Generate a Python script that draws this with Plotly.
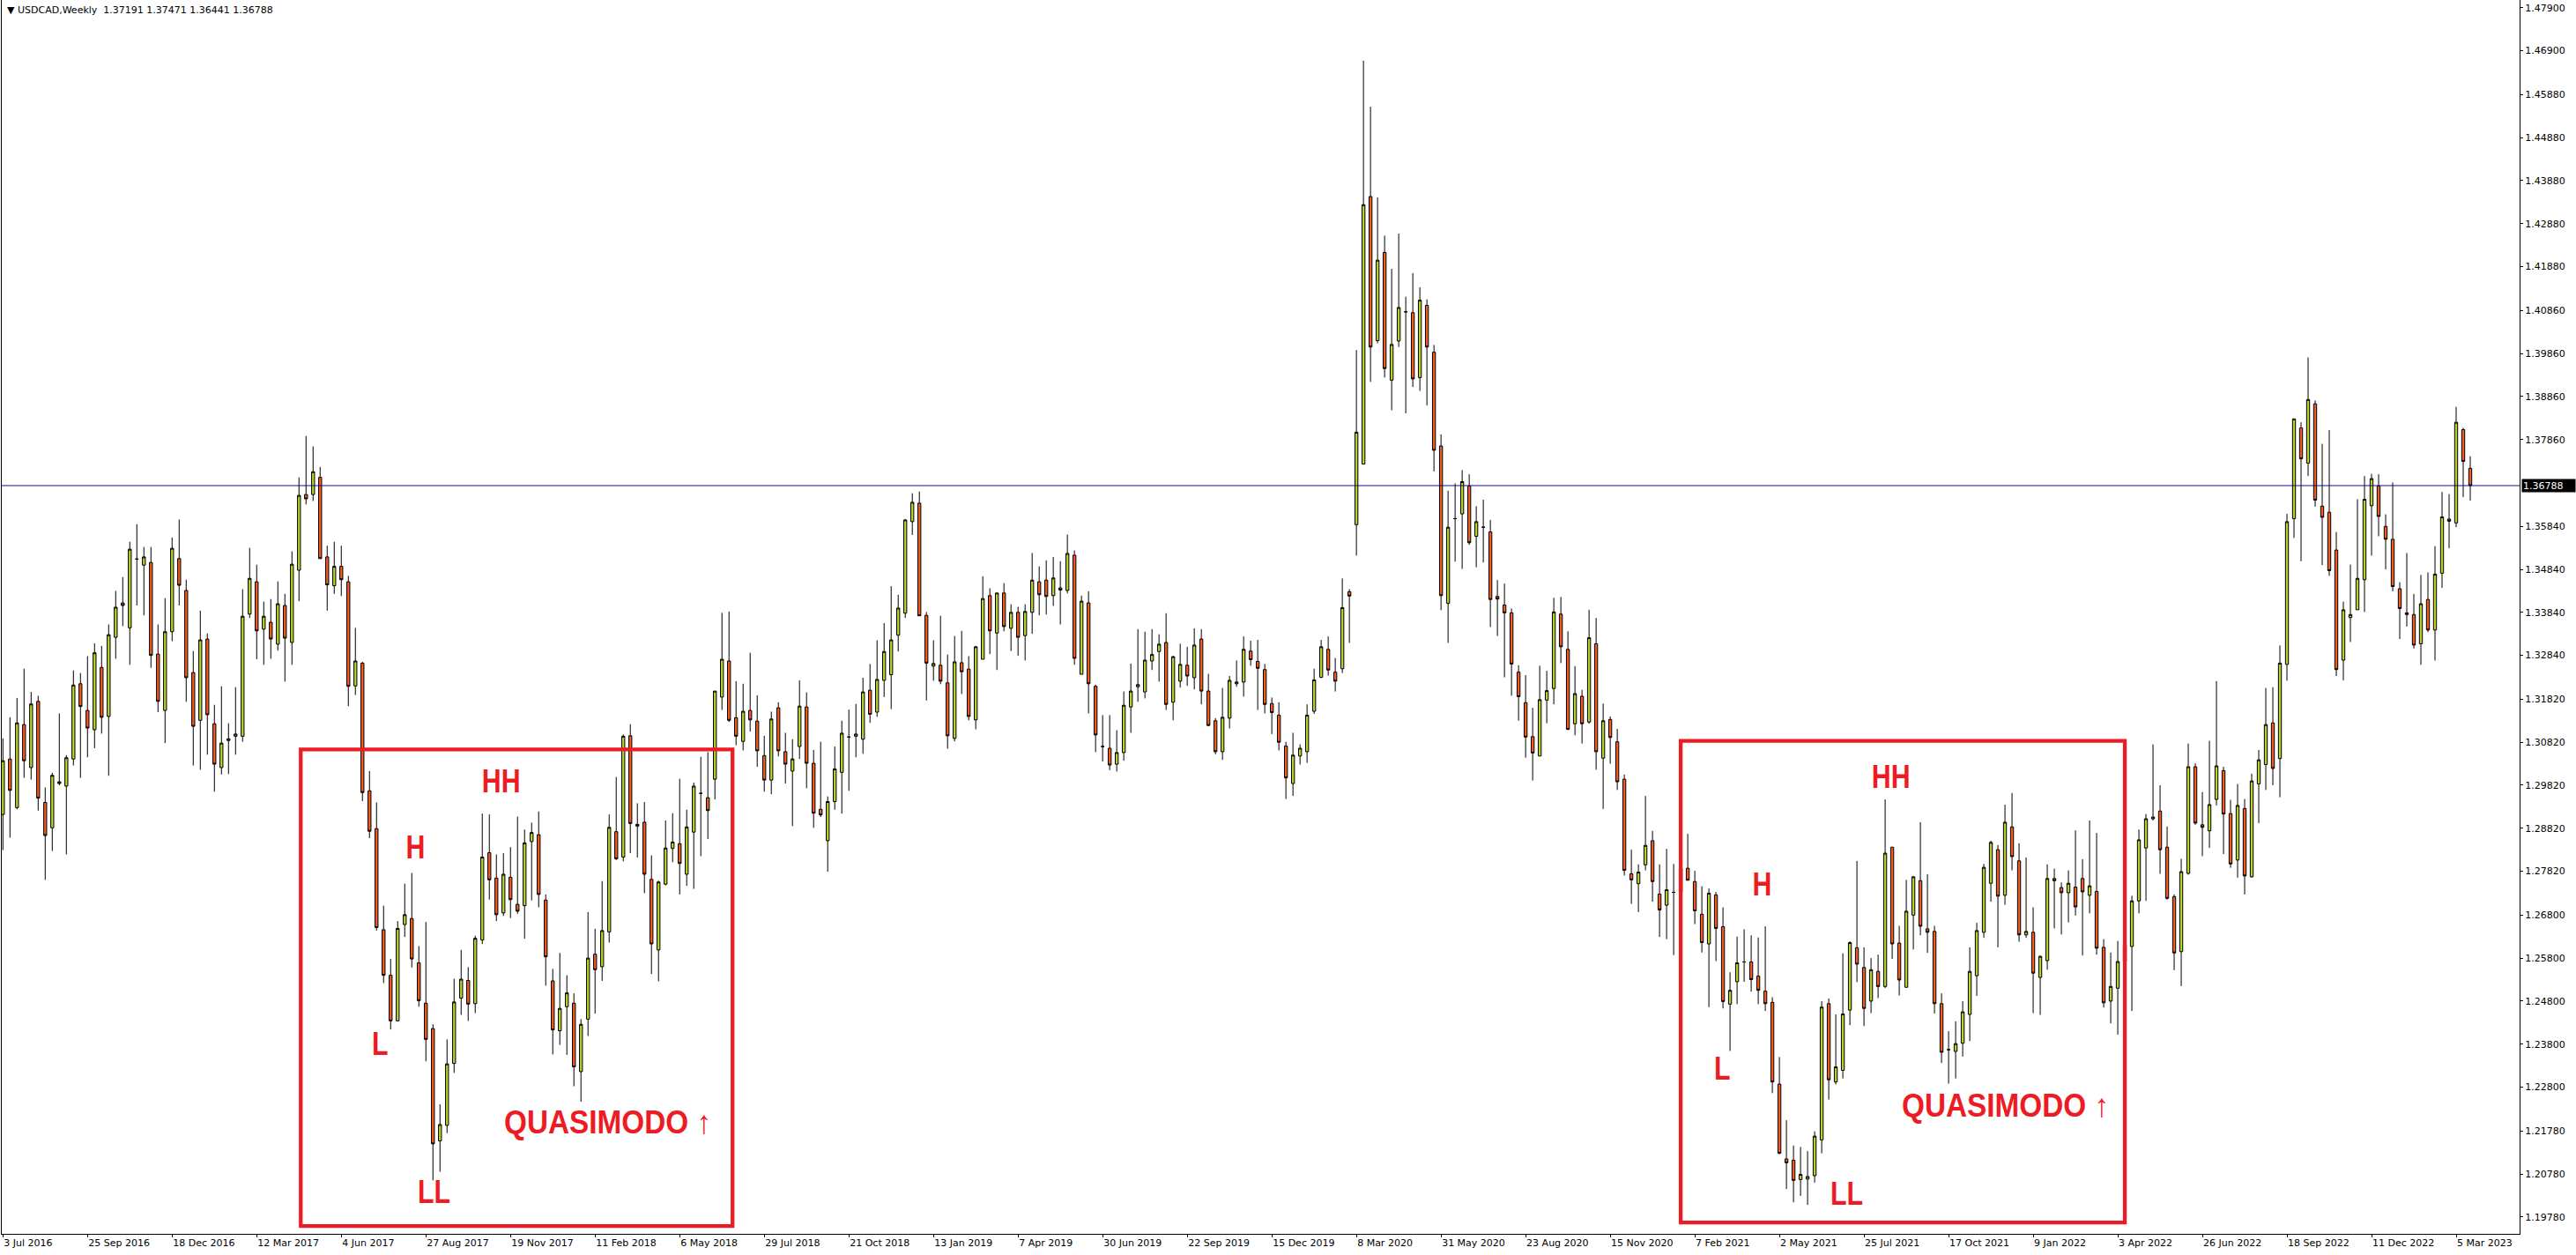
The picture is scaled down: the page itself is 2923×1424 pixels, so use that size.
import pandas as pd
import plotly.graph_objects as go

symbol_title = "USDCAD,Weekly"
first_week = "2016-07-03"

opens = [
    1.2914, 1.3043, 1.2930, 1.3123, 1.3023, 1.3177, 1.2942, 1.2883, 1.2990, 1.2980,
    1.3043, 1.3218, 1.3156, 1.3111, 1.3256, 1.3142, 1.3326, 1.3406, 1.3348, 1.3508,
    1.3494, 1.3500, 1.3287, 1.3156, 1.3339, 1.3509, 1.3435, 1.3244, 1.3133, 1.3322,
    1.3125, 1.3023, 1.3086, 1.3096, 1.3096, 1.3380, 1.3455, 1.3345, 1.3361, 1.3310,
    1.3400, 1.3314, 1.3482, 1.3658, 1.3658, 1.3698, 1.3513, 1.3446, 1.3491, 1.3455,
    1.3213, 1.3266, 1.2969, 1.2881, 1.2646, 1.2540, 1.2434, 1.2658, 1.2672, 1.2569,
    1.2475, 1.2416, 1.2155, 1.2191, 1.2335, 1.2487, 1.2528, 1.2474, 1.2622, 1.2825,
    1.2766, 1.2685, 1.2768, 1.2705, 1.2702, 1.2851, 1.2867, 1.2715, 1.2527, 1.2411,
    1.2467, 1.2475, 1.2316, 1.2438, 1.2589, 1.2560, 1.2641, 1.2874, 1.2815, 1.3097,
    1.2887, 1.2896, 1.2763, 1.2599, 1.2752, 1.2835, 1.2846, 1.2775, 1.2873, 1.2963,
    1.2953, 1.2996, 1.3187, 1.3271, 1.3139, 1.3084, 1.3156, 1.3131, 1.3051, 1.2994,
    1.3162, 1.3060, 1.3015, 1.3072, 1.3164, 1.3033, 1.2926, 1.2853, 1.2944, 1.3012,
    1.3094, 1.3096, 1.3089, 1.3203, 1.3152, 1.3226, 1.3239, 1.3331, 1.3382, 1.3595,
    1.3638, 1.3377, 1.3259, 1.3261, 1.3220, 1.3091, 1.3267, 1.3252, 1.3134, 1.3275,
    1.3423, 1.3336, 1.3429, 1.3347, 1.3384, 1.3330, 1.3384, 1.3455, 1.3459, 1.3423,
    1.3441, 1.3435, 1.3517, 1.3240, 1.3406, 1.3212, 1.3072, 1.3068, 1.3031, 1.3058,
    1.3164, 1.3211, 1.3199, 1.3271, 1.3293, 1.3314, 1.3175, 1.3224, 1.3261, 1.3232,
    1.3322, 1.3201, 1.3132, 1.3060, 1.3138, 1.3218, 1.3222, 1.3294, 1.3270, 1.3251,
    1.3172, 1.3145, 1.3073, 1.2986, 1.3050, 1.3060, 1.3154, 1.3233, 1.3298, 1.3245,
    1.3253, 1.3432, 1.3588, 1.3729, 1.4351, 1.4016, 1.4221, 1.3924, 1.4015, 1.4083,
    1.4081, 1.3930, 1.4098, 1.3989, 1.3771, 1.3405, 1.3602, 1.3613, 1.3678, 1.3561,
    1.3582, 1.3571, 1.3421, 1.3401, 1.3383, 1.3245, 1.3174, 1.3095, 1.3050, 1.3180,
    1.3207, 1.3380, 1.3298, 1.3125, 1.3189, 1.3129, 1.3311, 1.3045, 1.3135, 1.3083,
    1.2996, 1.2776, 1.2753, 1.2797, 1.2853, 1.2729, 1.2703, 1.2733, 1.2733, 1.2789,
    1.2758, 1.2682, 1.2613, 1.2727, 1.2653, 1.2473, 1.2525, 1.2571, 1.2571, 1.2538,
    1.2503, 1.2477, 1.2287, 1.2113, 1.2110, 1.2065, 1.2066, 1.2074, 1.2157, 1.2474,
    1.2292, 1.2319, 1.2459, 1.2604, 1.2558, 1.2480, 1.2549, 1.2514, 1.2838, 1.2615,
    1.2512, 1.2680, 1.2760, 1.2648, 1.2642, 1.2474, 1.2367, 1.2363, 1.2382, 1.2449,
    1.2539, 1.2640, 1.2754, 1.2832, 1.2726, 1.2885, 1.2806, 1.2634, 1.2640, 1.2535,
    1.2574, 1.2765, 1.2744, 1.2732, 1.2745, 1.2765, 1.2726, 1.2735, 1.2605, 1.2480,
    1.2510, 1.2572, 1.2607, 1.2713, 1.2836, 1.2904, 1.2922, 1.2838, 1.2723, 1.2595,
    1.2777, 1.3025, 1.2890, 1.2876, 1.2949, 1.3016, 1.2916, 1.2808, 1.2928, 1.2769,
    1.2985, 1.3030, 1.3127, 1.3044, 1.3263, 1.3602, 1.3813, 1.3731, 1.3869, 1.3631,
    1.3617, 1.3529, 1.3273, 1.3372, 1.3390, 1.3460, 1.3632, 1.3678, 1.3584, 1.3554,
    1.3439, 1.3383, 1.3379, 1.3311, 1.3414, 1.3343, 1.3475, 1.3601, 1.3592, 1.3809,
    1.37191,
]

highs = [
    1.3091, 1.3140, 1.3185, 1.3253, 1.3199, 1.3190, 1.2977, 1.3011, 1.3149, 1.3052,
    1.3249, 1.3243, 1.3282, 1.3312, 1.3306, 1.3356, 1.3434, 1.3466, 1.3548, 1.3589,
    1.3536, 1.3536, 1.3356, 1.3417, 1.3558, 1.3600, 1.3460, 1.3294, 1.3388, 1.3335,
    1.3169, 1.3212, 1.3126, 1.3210, 1.3438, 1.3534, 1.3495, 1.3409, 1.3415, 1.3456,
    1.3427, 1.3526, 1.3698, 1.3794, 1.3770, 1.3722, 1.3539, 1.3548, 1.3539, 1.3469,
    1.3348, 1.3269, 1.3015, 1.2942, 1.2702, 1.2578, 1.2666, 1.2753, 1.2778, 1.2608,
    1.2664, 1.2426, 1.2240, 1.2391, 1.2532, 1.2599, 1.2559, 1.2632, 1.2916, 1.2914,
    1.2821, 1.2824, 1.2838, 1.2909, 1.2879, 1.2895, 1.2921, 1.2728, 1.2555, 1.2592,
    1.2540, 1.2498, 1.2438, 1.2687, 1.2648, 1.2759, 1.2914, 1.3001, 1.3100, 1.3124,
    1.2940, 1.2943, 1.2819, 1.2760, 1.2900, 1.2917, 1.2997, 1.2925, 1.2988, 1.3048,
    1.3059, 1.3201, 1.3383, 1.3386, 1.3224, 1.3218, 1.3290, 1.3191, 1.3097, 1.3153,
    1.3175, 1.3104, 1.3089, 1.3226, 1.3198, 1.3064, 1.3083, 1.2956, 1.3072, 1.3132,
    1.3158, 1.3171, 1.3232, 1.3264, 1.3319, 1.3359, 1.3445, 1.3425, 1.3601, 1.3661,
    1.3665, 1.3385, 1.3319, 1.3376, 1.3286, 1.3329, 1.3341, 1.3282, 1.3306, 1.3468,
    1.3440, 1.3429, 1.3452, 1.3403, 1.3397, 1.3403, 1.3522, 1.3491, 1.3505, 1.3513,
    1.3503, 1.3565, 1.3528, 1.3423, 1.3433, 1.3216, 1.3145, 1.3145, 1.3110, 1.3200,
    1.3265, 1.3345, 1.3339, 1.3345, 1.3333, 1.3382, 1.3283, 1.3311, 1.3304, 1.3347,
    1.3345, 1.3241, 1.3138, 1.3208, 1.3236, 1.3272, 1.3328, 1.3318, 1.3320, 1.3264,
    1.3186, 1.3175, 1.3083, 1.3104, 1.3077, 1.3170, 1.3253, 1.3320, 1.3328, 1.3278,
    1.3463, 1.3438, 1.3994, 1.4667, 1.4560, 1.4349, 1.4260, 1.4183, 1.4265, 1.4118,
    1.4173, 1.4140, 1.4112, 1.4006, 1.3798, 1.3667, 1.3684, 1.3715, 1.3705, 1.3631,
    1.3646, 1.3599, 1.3459, 1.3451, 1.3393, 1.3261, 1.3238, 1.3162, 1.3260, 1.3248,
    1.3418, 1.3420, 1.3340, 1.3259, 1.3204, 1.3390, 1.3371, 1.3172, 1.3142, 1.3113,
    1.3007, 1.2832, 1.2798, 1.2957, 1.2876, 1.2798, 1.2834, 1.2799, 1.2830, 1.2869,
    1.2783, 1.2747, 1.2742, 1.2734, 1.2698, 1.2547, 1.2630, 1.2647, 1.2633, 1.2628,
    1.2654, 1.2489, 1.2350, 1.2203, 1.2144, 1.2141, 1.2131, 1.2177, 1.2480, 1.2486,
    1.2449, 1.2591, 1.2619, 1.2806, 1.2605, 1.2580, 1.2588, 1.2949, 1.2838, 1.2655,
    1.2762, 1.2771, 1.2896, 1.2775, 1.2655, 1.2498, 1.2410, 1.2433, 1.2480, 1.2605,
    1.2662, 1.2799, 1.2853, 1.2843, 1.2937, 1.2964, 1.2847, 1.2814, 1.2698, 1.2586,
    1.2798, 1.2788, 1.2756, 1.2784, 1.2877, 1.2810, 1.2900, 1.2871, 1.2624, 1.2593,
    1.2620, 1.2665, 1.2725, 1.2879, 1.2915, 1.3077, 1.2982, 1.2886, 1.2728, 1.2811,
    1.3079, 1.3033, 1.2966, 1.3085, 1.3224, 1.3025, 1.2948, 1.2985, 1.2950, 1.3009,
    1.3064, 1.3208, 1.3210, 1.3307, 1.3613, 1.3834, 1.3826, 1.3977, 1.3877, 1.3776,
    1.3808, 1.3571, 1.3409, 1.3495, 1.3647, 1.3701, 1.3706, 1.3705, 1.3612, 1.3686,
    1.3454, 1.3522, 1.3427, 1.3471, 1.3477, 1.3538, 1.3664, 1.3659, 1.3862, 1.3813,
    1.37471,
]

lows = [
    1.2831, 1.2860, 1.2926, 1.2999, 1.2995, 1.2923, 1.2762, 1.2829, 1.2982, 1.2821,
    1.3028, 1.2999, 1.3047, 1.3068, 1.3102, 1.3004, 1.3276, 1.3352, 1.3262, 1.3400,
    1.3377, 1.3255, 1.3152, 1.3080, 1.3317, 1.3400, 1.3176, 1.3028, 1.3018, 1.3053,
    1.2967, 1.3007, 1.3008, 1.3053, 1.3083, 1.3371, 1.3275, 1.3262, 1.3276, 1.3295,
    1.3223, 1.3262, 1.3410, 1.3635, 1.3643, 1.3509, 1.3388, 1.3427, 1.3422, 1.3166,
    1.3192, 1.2945, 1.2859, 1.2644, 1.2522, 1.2414, 1.2434, 1.2629, 1.2558, 1.2467,
    1.2340, 1.2063, 1.2083, 1.2173, 1.2313, 1.2448, 1.2434, 1.2452, 1.2613, 1.2716,
    1.2666, 1.2678, 1.2673, 1.2683, 1.2625, 1.2714, 1.2698, 1.2516, 1.2356, 1.2378,
    1.2355, 1.2282, 1.2246, 1.2399, 1.2451, 1.2527, 1.2616, 1.2808, 1.2805, 1.2824,
    1.2814, 1.2731, 1.2543, 1.2526, 1.2749, 1.2803, 1.2728, 1.2748, 1.2741, 1.2817,
    1.2857, 1.2949, 1.3157, 1.3129, 1.3075, 1.3063, 1.3107, 1.3025, 1.2967, 1.2961,
    1.3049, 1.2986, 1.2887, 1.3043, 1.2975, 1.2883, 1.2908, 1.2781, 1.2925, 1.2916,
    1.2969, 1.3047, 1.3055, 1.3127, 1.3141, 1.3187, 1.3159, 1.3293, 1.3371, 1.3564,
    1.3376, 1.3179, 1.3225, 1.3217, 1.3067, 1.3084, 1.3194, 1.3133, 1.3112, 1.3275,
    1.3287, 1.3250, 1.3340, 1.3294, 1.3283, 1.3272, 1.3334, 1.3377, 1.3379, 1.3399,
    1.3356, 1.3428, 1.3262, 1.3240, 1.3149, 1.3059, 1.3037, 1.3017, 1.3014, 1.3039,
    1.3104, 1.3176, 1.3184, 1.3250, 1.3223, 1.3157, 1.3133, 1.3209, 1.3213, 1.3205,
    1.3170, 1.3119, 1.3054, 1.3041, 1.3114, 1.3211, 1.3188, 1.3260, 1.3157, 1.3149,
    1.3101, 1.3063, 1.2950, 1.2957, 1.3030, 1.3034, 1.3148, 1.3231, 1.3237, 1.3200,
    1.3243, 1.3313, 1.3516, 1.3729, 1.3920, 1.4010, 1.3930, 1.3854, 1.4001, 1.3847,
    1.3908, 1.3899, 1.3865, 1.3712, 1.3389, 1.3313, 1.3502, 1.3485, 1.3541, 1.3489,
    1.3500, 1.3350, 1.3329, 1.3233, 1.3190, 1.3132, 1.3046, 1.2993, 1.3050, 1.3126,
    1.3170, 1.3266, 1.3110, 1.3098, 1.3079, 1.3125, 1.3018, 1.2927, 1.3032, 1.2971,
    1.2772, 1.2706, 1.2687, 1.2784, 1.2711, 1.2629, 1.2624, 1.2587, 1.2660, 1.2761,
    1.2659, 1.2593, 1.2466, 1.2573, 1.2463, 1.2364, 1.2473, 1.2525, 1.2502, 1.2473,
    1.2457, 1.2266, 1.2124, 1.2043, 1.2012, 1.2027, 1.2006, 1.2058, 1.2126, 1.2251,
    1.2286, 1.2300, 1.2424, 1.2524, 1.2422, 1.2452, 1.2487, 1.2510, 1.2578, 1.2493,
    1.2512, 1.2600, 1.2633, 1.2592, 1.2451, 1.2336, 1.2288, 1.2300, 1.2351, 1.2387,
    1.2492, 1.2627, 1.2711, 1.2605, 1.2704, 1.2784, 1.2618, 1.2627, 1.2452, 1.2448,
    1.2553, 1.2649, 1.2635, 1.2663, 1.2679, 1.2586, 1.2684, 1.2588, 1.2465, 1.2428,
    1.2402, 1.2540, 1.2457, 1.2684, 1.2713, 1.2900, 1.2776, 1.2716, 1.2552, 1.2515,
    1.2774, 1.2890, 1.2817, 1.2836, 1.2935, 1.2822, 1.2790, 1.2767, 1.2728, 1.2767,
    1.2894, 1.2971, 1.2982, 1.2954, 1.3225, 1.3557, 1.3503, 1.3701, 1.3630, 1.3494,
    1.3469, 1.3236, 1.3226, 1.3315, 1.3390, 1.3385, 1.3516, 1.3561, 1.3484, 1.3433,
    1.3322, 1.3351, 1.3300, 1.3262, 1.3338, 1.3272, 1.3441, 1.3533, 1.3582, 1.3652,
    1.36441,
]

closes = [
    1.3039, 1.2970, 1.3127, 1.3039, 1.3171, 1.2952, 1.2865, 1.3005, 1.2986, 1.3046,
    1.3215, 1.3165, 1.3115, 1.3290, 1.3140, 1.3332, 1.3396, 1.3400, 1.3531, 1.3508,
    1.3513, 1.3284, 1.3177, 1.3339, 1.3533, 1.3447, 1.3232, 1.3119, 1.3320, 1.3146,
    1.3031, 1.3080, 1.3090, 1.3101, 1.3375, 1.3463, 1.3341, 1.3375, 1.3322, 1.3404,
    1.3324, 1.3496, 1.3656, 1.3648, 1.3711, 1.3509, 1.3448, 1.3491, 1.3460, 1.3212,
    1.3271, 1.2965, 1.2875, 1.2651, 1.2540, 1.2434, 1.2649, 1.2681, 1.2578, 1.2481,
    1.2391, 1.2148, 1.2193, 1.2334, 1.2478, 1.2531, 1.2473, 1.2626, 1.2815, 1.2762,
    1.2681, 1.2775, 1.2716, 1.2689, 1.2848, 1.2872, 1.2728, 1.2583, 1.2413, 1.2463,
    1.2499, 1.2327, 1.2426, 1.2580, 1.2553, 1.2644, 1.2884, 1.2811, 1.3096, 1.2893,
    1.2891, 1.2775, 1.2613, 1.2757, 1.2836, 1.2850, 1.2800, 1.2885, 1.2980, 1.2963,
    1.2923, 1.3201, 1.3275, 1.3133, 1.3096, 1.3154, 1.3134, 1.3062, 1.2994, 1.3136,
    1.3062, 1.3031, 1.3043, 1.3166, 1.3033, 1.2917, 1.2913, 1.2944, 1.3020, 1.3103,
    1.3094, 1.3101, 1.3199, 1.3147, 1.3228, 1.3293, 1.3320, 1.3394, 1.3599, 1.3640,
    1.3376, 1.3266, 1.3265, 1.3224, 1.3097, 1.3269, 1.3246, 1.3142, 1.3304, 1.3416,
    1.3341, 1.3429, 1.3351, 1.3384, 1.3326, 1.3386, 1.3459, 1.3425, 1.3421, 1.3464,
    1.3436, 1.3521, 1.3277, 1.3410, 1.3218, 1.3099, 1.3072, 1.3029, 1.3058, 1.3168,
    1.3201, 1.3216, 1.3273, 1.3286, 1.3310, 1.3170, 1.3281, 1.3263, 1.3236, 1.3308,
    1.3201, 1.3121, 1.3060, 1.3140, 1.3226, 1.3222, 1.3298, 1.3274, 1.3254, 1.3170,
    1.3151, 1.3082, 1.2999, 1.3052, 1.3068, 1.3145, 1.3227, 1.3304, 1.3250, 1.3224,
    1.3395, 1.3422, 1.3803, 1.4332, 1.4001, 1.4203, 1.3951, 1.4007, 1.4093, 1.4083,
    1.3927, 1.4110, 1.4001, 1.3761, 1.3423, 1.3582, 1.3602, 1.3688, 1.3546, 1.3595,
    1.3582, 1.3414, 1.3415, 1.3383, 1.3264, 1.3188, 1.3094, 1.3057, 1.3181, 1.3202,
    1.3385, 1.3304, 1.3112, 1.3195, 1.3125, 1.3325, 1.3060, 1.3132, 1.3093, 1.2990,
    1.2784, 1.2762, 1.2780, 1.2842, 1.2758, 1.2692, 1.2739, 1.2733, 1.2789, 1.2761,
    1.2690, 1.2616, 1.2731, 1.2649, 1.2479, 1.2505, 1.2569, 1.2571, 1.2530, 1.2505,
    1.2474, 1.2292, 1.2126, 1.2104, 1.2063, 1.2077, 1.2072, 1.2166, 1.2466, 1.2297,
    1.2327, 1.2450, 1.2616, 1.2566, 1.2463, 1.2553, 1.2514, 1.2824, 1.2613, 1.2529,
    1.2689, 1.2769, 1.2654, 1.2640, 1.2474, 1.2361, 1.2367, 1.2381, 1.2455, 1.2549,
    1.2644, 1.2791, 1.2849, 1.2724, 1.2896, 1.2816, 1.2634, 1.2642, 1.2545, 1.2584,
    1.2765, 1.2760, 1.2732, 1.2754, 1.2699, 1.2734, 1.2748, 1.2603, 1.2476, 1.2514,
    1.2572, 1.2610, 1.2713, 1.2855, 1.2904, 1.2908, 1.2832, 1.2719, 1.2592, 1.2781,
    1.3025, 1.2894, 1.2884, 1.2937, 1.3027, 1.2915, 1.2799, 1.2935, 1.2771, 1.2992,
    1.3041, 1.3123, 1.3021, 1.3266, 1.3595, 1.3834, 1.3741, 1.3879, 1.3645, 1.3605,
    1.3481, 1.3251, 1.3390, 1.3379, 1.3463, 1.3647, 1.3695, 1.3607, 1.3554, 1.3444,
    1.3393, 1.3379, 1.3308, 1.3404, 1.3343, 1.3473, 1.3606, 1.3596, 1.3826, 1.3735,
    1.36788,
]

x_tick_labels = [
    "3 Jul 2016", "25 Sep 2016", "18 Dec 2016", "12 Mar 2017", "4 Jun 2017",
    "27 Aug 2017", "19 Nov 2017", "11 Feb 2018", "6 May 2018", "29 Jul 2018",
    "21 Oct 2018", "13 Jan 2019", "7 Apr 2019", "30 Jun 2019", "22 Sep 2019",
    "15 Dec 2019", "8 Mar 2020", "31 May 2020", "23 Aug 2020", "15 Nov 2020",
    "7 Feb 2021", "2 May 2021", "25 Jul 2021", "17 Oct 2021", "9 Jan 2022",
    "3 Apr 2022", "26 Jun 2022", "18 Sep 2022", "11 Dec 2022", "5 Mar 2023",
]
x_tick_every = 12

y_tick_values = [
    1.47900, 1.46900, 1.45880, 1.44880, 1.43880, 1.42880, 1.41880, 1.40860,
    1.39860, 1.38860, 1.37860, 1.35840, 1.34840, 1.33840, 1.32840, 1.31820,
    1.30820, 1.29820, 1.28820, 1.27820, 1.26800, 1.25800, 1.24800, 1.23800,
    1.22800, 1.21780, 1.20780, 1.19780,
]
last_price = 1.36788

# marked zones: (first week index, last week index, lower price, upper price)
zone_boxes = [
    (42.25, 103.5, 1.1957, 1.3065),
    (238.0, 301.0, 1.1965, 1.3085),
]
# pattern labels: (text, week index, price)
zone_labels = [
    ("HH", 70.6, 1.2992),
    ("H", 58.5, 1.2838),
    ("L", 53.5, 1.2381),
    ("LL", 61.1, 1.2037),
    ("QUASIMODO \u2191", 85.8, 1.2199),
    ("HH", 267.8, 1.3002),
    ("H", 249.5, 1.2752),
    ("L", 243.9, 1.2324),
    ("LL", 261.5, 1.2031),
    ("QUASIMODO \u2191", 284.1, 1.2236),
]

BULL = "#B7D12C"
BEAR = "#F15A24"
MARK_RED = "#ED1C24"
AXIS_FONT = "DejaVu Sans"
LABEL_FONT = "Liberation Sans, Arial"

start = pd.Timestamp(first_week)


def week_pos(k):
    return start + pd.Timedelta(days=7 * k)


dates = [week_pos(i) for i in range(len(opens))]

fig = go.Figure(
    go.Candlestick(
        x=dates,
        open=opens,
        high=highs,
        low=lows,
        close=closes,
        increasing=dict(line=dict(color="black", width=1), fillcolor=BULL),
        decreasing=dict(line=dict(color="black", width=1), fillcolor=BEAR),
        whiskerwidth=0,
        hoverinfo="skip",
        showlegend=False,
    )
)

shapes = [
    dict(type="line", xref="paper", x0=0, x1=1, yref="y", y0=last_price, y1=last_price,
         line=dict(color="#10108A", width=1), layer="above")
]
for x0, x1, y0, y1 in zone_boxes:
    shapes.append(dict(type="rect", xref="x", yref="y", x0=week_pos(x0), x1=week_pos(x1),
                       y0=y0, y1=y1, line=dict(color=MARK_RED, width=4.3),
                       fillcolor="rgba(0,0,0,0)", layer="above"))

annotations = []
for text, wk, price in zone_labels:
    annotations.append(dict(
        x=week_pos(wk), y=price, xref="x", yref="y", text="<b>" + text + "</b>", showarrow=False,
        xanchor="center", yanchor="middle",
        font=dict(family=LABEL_FONT, size=37, color=MARK_RED),
    ))

header = f"\u25BC {symbol_title}  {opens[-1]:.5f} {highs[-1]:.5f} {lows[-1]:.5f} {closes[-1]:.5f}"
annotations.append(dict(
    x=0, y=1, xref="paper", yref="paper", xanchor="left", yanchor="top", xshift=4, yshift=-3,
    text=header, showarrow=False, font=dict(family=AXIS_FONT, size=11, color="black"),
))
annotations.append(dict(
    x=1, y=last_price, xref="paper", yref="y", xanchor="left", yanchor="middle", xshift=2,
    text=f"{last_price:.5f}", showarrow=False, bgcolor="black", borderpad=1,
    width=58, height=12, align="left",
    font=dict(family=AXIS_FONT, size=11, color="white"),
))

fig.update_layout(
    width=2923, height=1424,
    margin=dict(l=2, r=64, t=0, b=24),
    paper_bgcolor="white", plot_bgcolor="white",
    showlegend=False, boxgap=0.4,
    font=dict(family=AXIS_FONT, size=11, color="black"),
    shapes=shapes, annotations=annotations,
    hovermode=False,
)

fig.update_xaxes(
    type="date",
    range=[week_pos(-0.1625), week_pos(357.0)],
    rangeslider=dict(visible=False),
    showgrid=False, zeroline=False,
    showline=True, mirror=True, linecolor="black", linewidth=1,
    ticks="outside", ticklen=3, tickcolor="black",
    tickvals=dates[::x_tick_every], ticktext=x_tick_labels,
    ticklabelposition="outside right",
    tickfont=dict(family=AXIS_FONT, size=11, color="black"),
)
fig.update_yaxes(
    side="right",
    range=[1.19387, 1.48081],
    showgrid=False, zeroline=False,
    showline=True, mirror=True, linecolor="black", linewidth=1,
    ticks="outside", ticklen=3, tickcolor="black",
    tickvals=y_tick_values, ticktext=[f"{v:.5f}" for v in y_tick_values],
    tickfont=dict(family=AXIS_FONT, size=11, color="black"),
)

# narrow the bold pattern labels (condensed look of the original terminal font)
condense_js = (
    "document.body.style.margin='0';document.body.style.overflow='hidden';"
    "try{document.querySelectorAll('text.annotation-text').forEach(function(t){"
    "var s=t.getAttribute('data-unformatted')||'';"
    "if(s.indexOf('<b>')===0){var f=(s.indexOf('QUASIMODO')>=0)?0.9:0.82;"
    "var w=t.getComputedTextLength();"
    "t.setAttribute('textLength',(w*f).toFixed(1));"
    "t.setAttribute('lengthAdjust','spacingAndGlyphs');}});}catch(e){}"
)

fig.write_html(
    "out.html",
    config={"displayModeBar": False, "staticPlot": True},
    post_script=condense_js,
)
